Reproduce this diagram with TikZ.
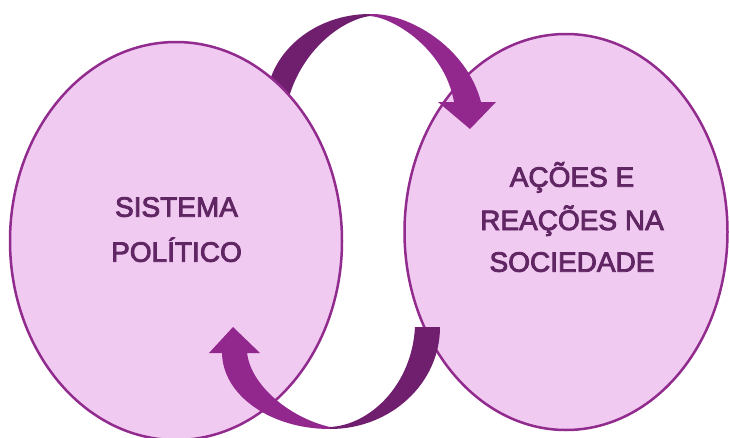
\documentclass[tikz,border=0pt]{standalone}
\usepackage{fontspec}
\usetikzlibrary{shapes.geometric}
\newfontfamily\lblfont{Liberation Sans}[FakeBold=3]
\definecolor{edgec}{RGB}{146,43,142}
\definecolor{fillc}{RGB}{240,202,240}
\definecolor{textc}{RGB}{96,38,99}
\definecolor{darkc}{RGB}{112,30,110}
\definecolor{lightc}{RGB}{146,40,142}
\begin{document}
\begin{tikzpicture}[x=1pt,y=-1pt,
  bubble/.style={ellipse, draw=edgec, fill=fillc, line width=2.5pt, inner sep=0pt},
  lbl/.style={text=textc, font=\lblfont\fontsize{28}{34}\selectfont, anchor=base, inner sep=0pt},
  darkarc/.style={fill=darkc},
  lightarc/.style={fill=lightc}]
\useasboundingbox (0,0) rectangle (729,437);
\fill[white] (0,0) rectangle (729,437);
% right ellipse
\node[bubble, minimum width=323pt, minimum height=396pt] (R) at (566,232) {};
% top arrow
\fill[darkarc] (370,14) .. controls (312.6,14) and (266,54.7) .. (266,105) -- (285,115) .. controls (294,55) and (340,20) .. (370,16) -- cycle;
\fill[lightarc] (370,14) .. controls (410,13) and (467,48) .. (481,102) -- (454,102) .. controls (445,50) and (395,18) .. (370,16) -- cycle;
\fill[lightarc] (438,102) -- (496,102) -- (470,129) -- cycle;
% left ellipse
\node[bubble, minimum width=332pt, minimum height=398pt] (L) at (176,241) {};
% bottom arrow
\fill[lightarc] (222,352) .. controls (222,395) and (270.4,429) .. (330,429) -- (330,427) .. controls (290,418) and (250,385) .. (247,352) -- cycle;
\fill[lightarc] (209,353) -- (260,353) -- (233,327) -- cycle;
\fill[darkarc] (330,429) .. controls (390.8,429) and (440,383.3) .. (440,327) -- (415,327) .. controls (412,385) and (370,425) .. (330,427) -- cycle;
% labels
\node[lbl] (l1) at (176.5,216.7) {SISTEMA};
\node[lbl] (l2) at (176.5,261.7) {POLÍTICO};
\node[lbl] (r1) at (572,186.7) {AÇÕES E};
\node[lbl] (r2) at (572,230) {REAÇÕES NA};
\node[lbl] (r3) at (572,271.7) {SOCIEDADE};
\end{tikzpicture}
\end{document}
